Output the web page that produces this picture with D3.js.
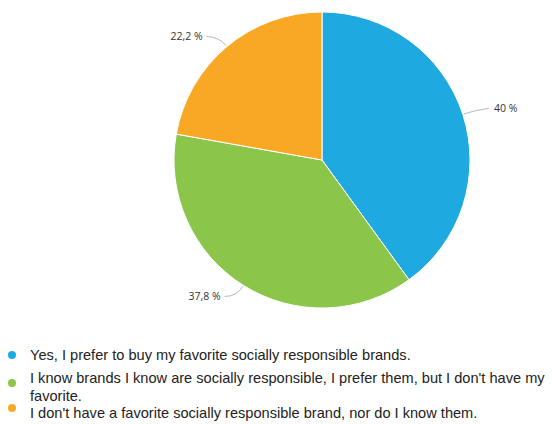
<!DOCTYPE html>
<html>
<head>
<meta charset="utf-8">
<script src="https://cdn.jsdelivr.net/npm/d3@7"></script>
<style>
  body { margin: 0; background: #fff; }
  svg { display: block; }
</style>
</head>
<body>
<div id="chart-area"></div>
<script>
// datos
var categorias = [
    "Yes, I prefer to buy my favorite socially responsible brands.",
    "I know brands I know are socially responsible, I prefer them, but I don't have my favorite.",
    "I don't have a favorite socially responsible brand, nor do I know them."
];
var valores = [40, 37.8, 22.2];
var etiquetas = ["40 %", "37,8 %", "22,2 %"];
var colores = ["#1fa9e1", "#8bc64a", "#f9a826"];

// legend lines (wrapped like the original)
var lineasLeyenda = [
    ["Yes, I prefer to buy my favorite socially responsible brands."],
    ["I know brands I know are socially responsible, I prefer them, but I don't have my", "favorite."],
    ["I don't have a favorite socially responsible brand, nor do I know them."]
];

var width = 552, height = 424;
var cx = 322, cy = 160, radius = 148;

var svg = d3.select("#chart-area")
    .append("svg")
        .attr("width", width)
        .attr("height", height);

var g = svg.append("g")
    .attr("transform", "translate(" + cx + "," + cy + ")");

var pie = d3.pie().sort(null).value(d => d);
var arcs = pie(valores);

var arc = d3.arc().innerRadius(0).outerRadius(radius);

g.selectAll("path.slice")
    .data(arcs)
    .join("path")
        .attr("class", "slice")
        .attr("d", arc)
        .attr("fill", (d, i) => colores[i])
        .attr("stroke", "#fff")
        .attr("stroke-width", 1);

// leader lines + labels
function punto(ang, r) {
    return [r * Math.sin(ang), -r * Math.cos(ang)];
}

arcs.forEach(function(d, i) {
    var mid = (d.startAngle + d.endAngle) / 2;
    var derecha = Math.sin(mid) > 0;
    var p0 = punto(mid, radius + 1);
    var p1 = punto(mid, radius + 13);
    var p2 = [p1[0] + (derecha ? 14 : -12), p1[1] - (derecha ? 2 : 0)];

    g.append("path")
        .attr("d", "M" + p0[0] + "," + p0[1] + " Q" + p1[0] + "," + p1[1] + " " + p2[0] + "," + p2[1])
        .attr("fill", "none")
        .attr("stroke", "#b8b8b8")
        .attr("stroke-width", 1);

    g.append("text")
        .attr("x", p2[0] + (derecha ? 5 : -4))
        .attr("y", p2[1] + 3.5)
        .attr("text-anchor", derecha ? "start" : "end")
        .style("font-family", "'Open Sans', sans-serif")
        .style("font-size", "10.5px")
        .attr("fill", "#333")
        .text(etiquetas[i]);
});

// leyenda
var yLeyenda = [360, 383, 418];
var puntosY = [355, 383, 408];
var legend = svg.append("g").attr("class", "legend");

categorias.forEach(function(cat, i) {
    legend.append("circle")
        .attr("cx", 12)
        .attr("cy", puntosY[i])
        .attr("r", 4)
        .attr("fill", colores[i]);

    var t = legend.append("text")
        .attr("x", 30)
        .attr("y", yLeyenda[i])
        .style("font-family", "'Liberation Sans', Arial, sans-serif")
        .style("font-size", "14.6px")
        .attr("fill", "#222");

    lineasLeyenda[i].forEach(function(linea, j) {
        t.append("tspan")
            .attr("x", 30)
            .attr("dy", j == 0 ? 0 : 18)
            .text(linea);
    });
});
</script>
</body>
</html>
